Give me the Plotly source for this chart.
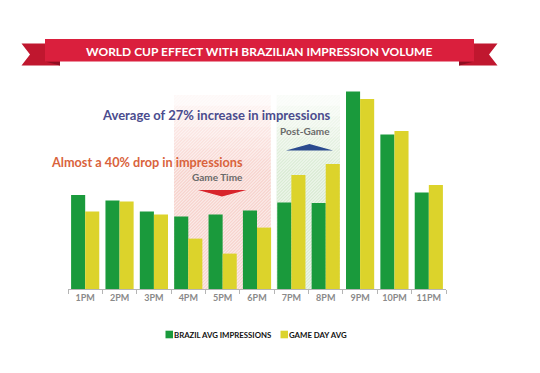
import plotly.graph_objects as go

hours = ["1PM", "2PM", "3PM", "4PM", "5PM", "6PM", "7PM", "8PM", "9PM", "10PM", "11PM"]
brazil_avg = [47.0, 44.2, 38.7, 36.2, 37.2, 39.3, 43.3, 43.0, 98.7, 77.2, 48.3]
game_day_avg = [38.7, 43.7, 37.3, 25.2, 17.7, 30.7, 57.0, 62.5, 95.0, 79.0, 52.0]
series_names = ["BRAZIL AVG IMPRESSIONS", "GAME DAY AVG"]

FONT = "Lato, Roboto, sans-serif"
GREEN = "#1a9a3c"
YELLOW = "#dcd32b"

# page body has an 8px margin: the figure starts at screen (8, 8)
OFF = 8
W, H = 540 - 2 * OFF, 373 - 2 * OFF
PL, PR, PT, PB = 68, 446, 80, 289          # plot area in screen pixels
PW, PH = PR - PL, PB - PT
L, T = PL - OFF, PT - OFF
R, B = W - L - PW, H - T - PH


def px(x):
    return (x - PL) / PW


def py(y):
    return (PB - y) / PH


fig = go.Figure()
fig.add_trace(go.Bar(x=hours, y=brazil_avg, name=series_names[0],
                     marker=dict(color=GREEN, line=dict(width=0))))
fig.add_trace(go.Bar(x=hours, y=game_day_avg, name=series_names[1],
                     marker=dict(color=YELLOW, line=dict(width=0))))

shapes = []


def path(pts, close=True):
    s = "M " + " L ".join(f"{px(a)},{py(b)}" for a, b in pts)
    return s + (" Z" if close else "")


def hatch(x0, x1, y0, y1, step=3.2):
    segs = []
    c = x0 + y0 + step
    while c < x1 + y1:
        xa = max(x0, c - y1)
        xb = min(x1, c - y0)
        if xb > xa:
            segs.append(f"M {px(xa)},{py(c - xa)} L {px(xb)},{py(c - xb)}")
        c += step
    return " ".join(segs)


# shaded regions (gradient approximated with stacked rects) + hatching
regions = [((174, 270.7), "#f3b09f"), ((276.7, 340), "#b6d8ac")]
n = 8
for (x0, x1), col in regions:
    for k in range(n):
        top = 95 + k * (180 - 95) / n
        shapes.append(dict(type="rect", xref="paper", yref="paper", x0=px(x0), x1=px(x1),
                           y0=0, y1=py(top), fillcolor=col, opacity=0.085,
                           line=dict(width=0), layer="below"))
    shapes.append(dict(type="path", xref="paper", yref="paper", path=hatch(x0, x1, 95, PB),
                       line=dict(color="white", width=1.1), opacity=0.55, layer="below"))

# ribbon title
shapes.append(dict(type="path", xref="paper", yref="paper",
                   path=path([(21.5, 43.5), (60, 43.5), (60, 65.5), (21.5, 65.5), (30, 54.5)]),
                   fillcolor="#c0172f", line=dict(width=0)))
shapes.append(dict(type="path", xref="paper", yref="paper",
                   path=path([(497.5, 43.5), (459, 43.5), (459, 65.5), (497.5, 65.5), (489, 54.5)]),
                   fillcolor="#c0172f", line=dict(width=0)))
shapes.append(dict(type="path", xref="paper", yref="paper",
                   path=path([(45, 61.5), (60, 61.5), (60, 65.5)]),
                   fillcolor="#8e0f22", line=dict(width=0)))
shapes.append(dict(type="path", xref="paper", yref="paper",
                   path=path([(474, 61.5), (459, 61.5), (459, 65.5)]),
                   fillcolor="#8e0f22", line=dict(width=0)))
shapes.append(dict(type="rect", xref="paper", yref="paper",
                   x0=px(45), x1=px(474), y0=py(39), y1=py(61.5),
                   fillcolor="#da1f3d", line=dict(width=0)))

# arrows
shapes.append(dict(type="path", xref="paper", yref="paper",
                   path=path([(286, 150.5), (309.5, 144), (333, 150.5)]),
                   fillcolor="#2a4a8e", line=dict(width=0)))
shapes.append(dict(type="path", xref="paper", yref="paper",
                   path=path([(198, 190), (246.5, 190), (222, 196.5)]),
                   fillcolor="#d8242b", line=dict(width=0)))

# legend swatches
for (sx, col) in [(165.5, GREEN), (280.5, YELLOW)]:
    shapes.append(dict(type="rect", xref="paper", yref="paper", x0=px(sx), x1=px(sx + 7.5),
                       y0=py(338.3), y1=py(330.7), fillcolor=col, line=dict(width=0)))

annotations = [
    dict(text="<b>WORLD CUP EFFECT WITH BRAZILIAN IMPRESSION VOLUME</b>", x=px(259), y=py(51),
         xref="paper", yref="paper", showarrow=False,
         font=dict(family=FONT, size=12, color="white"), xanchor="center", yanchor="middle"),
    dict(text="<b>Average of 27% increase in impressions</b>", x=px(332), y=py(115),
         xref="paper", yref="paper", showarrow=False,
         font=dict(family=FONT, size=13, color="#4b4c8e"), xanchor="right", yanchor="middle"),
    dict(text="<b>Post-Game</b>", x=px(332), y=py(130.5),
         xref="paper", yref="paper", showarrow=False,
         font=dict(family=FONT, size=10, color="#6a6a6a"), xanchor="right", yanchor="middle"),
    dict(text="<b>Almost a 40% drop in impressions</b>", x=px(245), y=py(162),
         xref="paper", yref="paper", showarrow=False,
         font=dict(family=FONT, size=12.7, color="#d9633c"), xanchor="right", yanchor="middle"),
    dict(text="<b>Game Time</b>", x=px(245), y=py(177),
         xref="paper", yref="paper", showarrow=False,
         font=dict(family=FONT, size=10, color="#6a6a6a"), xanchor="right", yanchor="middle"),
    dict(text=f"<b>{series_names[0]}</b>", x=px(174), y=py(334.5),
         xref="paper", yref="paper", showarrow=False,
         font=dict(family=FONT, size=7.8, color="#111"), xanchor="left", yanchor="middle",
         xshift=-2),
    dict(text=f"<b>{series_names[1]}</b>", x=px(289), y=py(334.5),
         xref="paper", yref="paper", showarrow=False,
         font=dict(family=FONT, size=7.8, color="#111"), xanchor="left", yanchor="middle",
         xshift=-2),
]

fig.update_layout(
    width=W, height=H,
    margin=dict(l=L, r=R, t=T, b=B, pad=0),
    paper_bgcolor="white", plot_bgcolor="rgba(0,0,0,0)",
    barmode="group", bargap=0.18, bargroupgap=0,
    shapes=shapes, annotations=annotations,
    showlegend=False,
    xaxis=dict(range=[-0.5, 10.5], showline=True, linecolor="#b5b5b5", linewidth=1,
               ticks="outside", tickson="boundaries", ticklen=4, tickcolor="#b5b5b5",
               tickangle=0, showgrid=False, tickfont=dict(family=FONT, size=9, color="#8a8a8a"),
               fixedrange=True),
    yaxis=dict(range=[0, PH / 2], visible=False, showgrid=False, fixedrange=True),
    font=dict(family=FONT),
)
fig.update_xaxes(tickvals=hours, ticktext=[f"<b>{h}</b>" for h in hours])

fig.write_html("out.html")
